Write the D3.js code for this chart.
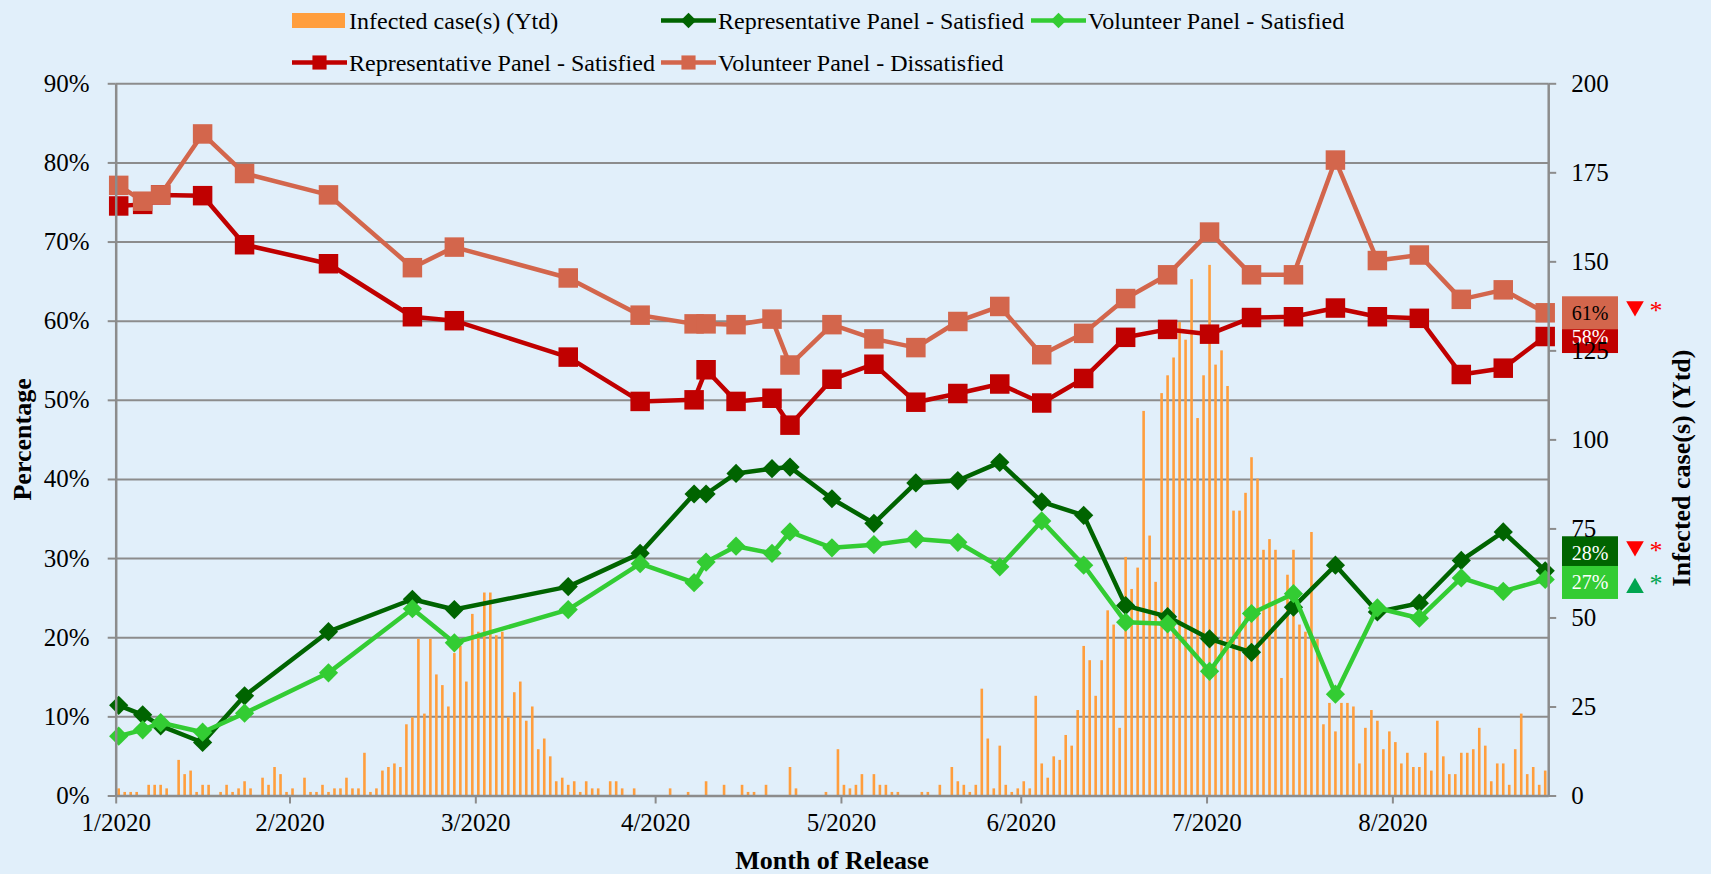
<!DOCTYPE html>
<html>
<head>
<meta charset="utf-8">
<script src="https://cdnjs.cloudflare.com/ajax/libs/d3/7.8.5/d3.min.js"></script>
<style>
  html, body { margin: 0; padding: 0; background: #E1EFFA; }
  svg { display: block; font-family: "Liberation Serif", "Times New Roman", serif; }
</style>
</head>
<body>
<div id="chart"></div>
<script>
//Data: daily infected cases, one value per day from firstCaseDay
var firstCaseDay = "2020-01-31";
var dailyCases = [
  2,1,1,1,0,3,3,3,2,0,
  10,6,7,1,3,3,0,1,3,1,
  2,4,2,0,5,3,8,6,1,2,
  0,5,1,1,3,1,2,2,5,2,
  2,12,1,2,7,8,9,8,20,22,
  44,23,44,34,31,25,40,42,32,51,
  46,57,57,45,46,22,29,32,21,25,
  13,16,11,4,5,3,4,1,4,2,
  2,0,4,4,2,0,2,0,0,0,
  0,0,2,0,0,1,0,0,4,0,
  0,3,0,0,3,1,1,0,3,0,
  0,0,8,2,0,0,0,0,1,0,
  13,3,2,3,6,0,6,3,3,1,
  1,0,0,0,1,1,0,3,0,8,
  4,3,1,3,30,16,2,14,3,1,
  2,4,2,28,9,5,11,10,17,14,
  24,42,38,28,38,52,48,19,67,58,
  64,108,73,60,113,118,123,133,128,145,
  106,118,149,121,125,115,80,80,85,95,
  89,69,72,69,33,62,69,48,46,74,
  44,20,26,18,26,26,25,9,19,24,
  21,13,18,15,9,12,8,8,12,7,
  21,11,6,6,12,12,13,19,14,4,
  9,9,3,13,23,6,8,3,7
];

//Data: survey releases (percent)
var surveyDates = ["2020-01-31","2020-02-04","2020-02-07","2020-02-14","2020-02-21","2020-03-06",
  "2020-03-20","2020-03-27","2020-04-15","2020-04-27","2020-05-06","2020-05-08","2020-05-13",
  "2020-05-19","2020-05-22","2020-05-29","2020-06-05","2020-06-12","2020-06-19","2020-06-26",
  "2020-07-03","2020-07-10","2020-07-17","2020-07-24","2020-07-31","2020-08-07","2020-08-14",
  "2020-08-21","2020-08-28","2020-09-04","2020-09-11","2020-09-18","2020-09-25"];
var repSatisfied = [11.4,10.2,8.8,6.7,12.6,20.7,24.8,23.5,26.4,30.6,38.1,38.1,40.7,41.3,41.5,37.5,
  34.4,39.5,39.8,42.1,37.1,35.4,24.0,22.6,19.8,18.1,23.8,29.1,23.2,24.3,29.7,33.3,28.4];
var volSatisfied = [7.5,8.3,9.2,8.0,10.4,15.5,23.6,19.3,23.5,29.3,26.9,29.5,31.5,30.6,33.3,31.3,
  31.7,32.4,32.0,28.9,34.7,29.1,21.9,21.7,15.7,23.0,25.5,12.8,23.7,22.4,27.5,25.8,27.3];
var repDissatisfied = [74.5,74.7,75.9,75.8,69.6,67.2,60.5,60.0,55.4,49.8,50.0,53.8,49.8,50.2,46.8,52.6,
  54.5,49.7,50.8,52.0,49.6,52.7,57.9,58.9,58.3,60.4,60.5,61.6,60.5,60.3,53.2,54.0,58.0];
var volDissatisfied = [77.1,75.1,75.9,83.6,78.6,75.9,66.7,69.3,65.4,60.7,59.6,59.6,59.5,60.2,54.4,59.5,
  57.7,56.6,59.9,61.8,55.7,58.4,62.8,65.8,71.2,65.8,65.8,80.3,67.6,68.3,62.7,63.9,61.0];

//Ticks
var monthTicks = ["2020-01-31","2020-02-29","2020-03-31","2020-04-30","2020-05-31","2020-06-30","2020-07-31","2020-08-31"];
var pctTicks = [0,10,20,30,40,50,60,70,80,90];
var caseTicks = [0,25,50,75,100,125,150,175,200];

//Series styles (legend order)
var series = [
  {key: "repSat", name: "Representative Panel - Satisfied", values: repSatisfied, color: "#006400", marker: "diamond", arrow: "down", arrowColor: "#FF0000", shift: -18, textColor: "#fff"},
  {key: "volSat", name: "Volunteer Panel - Satisfied", values: volSatisfied, color: "#33CC33", marker: "diamond", arrow: "up", arrowColor: "#00A550", shift: 3, textColor: "#fff"},
  {key: "repDis", name: "Representative Panel - Satisfied", values: repDissatisfied, color: "#C00000", marker: "square", arrow: null, shift: 0, textColor: "#fff"},
  {key: "volDis", name: "Volunteer Panel - Dissatisfied", values: volDissatisfied, color: "#D3664C", marker: "square", arrow: "down", arrowColor: "#FF0000", shift: 0, textColor: "#000"}
];
var barColor = "#FF9E3D";
var gridColor = "#8C8C8C";

//Dimensions
var width = 1711, height = 874;
var plot = {left: 115.7, right: 1548.2, top: 83.3, bottom: 795.5};

var parseDay = d3.timeParse("%Y-%m-%d");
var start = parseDay(firstCaseDay);
var midDay = function(d){ return d3.timeHour.offset(d, 12); };

var svg = d3.select("#chart").append("svg")
  .attr("width", width).attr("height", height);
svg.append("rect").attr("width", width).attr("height", height).attr("fill", "#E1EFFA");

//Scales
var x = d3.scaleTime()
  .domain([start, d3.timeDay.offset(start, dailyCases.length)])
  .range([plot.left, plot.right]);
var yPct = d3.scaleLinear().domain([0, 90]).range([plot.bottom, plot.top]);
var yCases = d3.scaleLinear().domain([0, 200]).range([plot.bottom, plot.top]);

//Gridlines
svg.append("g")
  .attr("transform", "translate(" + plot.left + ",0)")
  .call(d3.axisLeft(yPct).tickValues(pctTicks).tickSize(-(plot.right - plot.left)).tickFormat(""))
  .call(function(g){
    g.select(".domain").remove();
    g.selectAll("line").attr("stroke", gridColor).attr("stroke-width", 2);
  });

//Bars
var bars = dailyCases.map(function(v, i){ return {date: d3.timeDay.offset(start, i), v: v}; });
svg.append("g").selectAll("rect")
  .data(bars.filter(function(d){ return d.v > 0; }))
  .enter().append("rect")
  .attr("x", function(d){ return x(midDay(d.date)) - 1.3; })
  .attr("width", 2.6)
  .attr("y", function(d){ return yCases(d.v); })
  .attr("height", function(d){ return plot.bottom - yCases(d.v); })
  .attr("fill", barColor);

//Lines + markers
var squareSym = d3.symbol().type(d3.symbolSquare);
function markerPath(type, big){
  if (type === "square") return squareSym.size(big ? 380 : 200)();
  return squareSym.size(big ? 185 : 120)();
}
var line = d3.line()
  .x(function(d){ return x(midDay(d.date)); })
  .y(function(d){ return yPct(d.v); });

series.forEach(function(s){
  var pts = s.values.map(function(v, i){ return {date: parseDay(surveyDates[i]), v: v}; });
  var g = svg.append("g");
  g.append("path").datum(pts)
    .attr("d", line)
    .attr("fill", "none")
    .attr("stroke", s.color)
    .attr("stroke-width", 4.5)
    .attr("stroke-linejoin", "round");
  g.selectAll(".mk").data(pts).enter().append("path")
    .attr("d", markerPath(s.marker, true))
    .attr("fill", s.color)
    .attr("transform", function(d){
      return "translate(" + x(midDay(d.date)) + "," + yPct(d.v) + ")" + (s.marker === "diamond" ? " rotate(45)" : "");
    });
});

//End labels
var labelX = 1562, labelW = 56, labelH = 33;
var endOrder = [series[2], series[3], series[0], series[1]];
endOrder.forEach(function(s){
  var last = s.values[s.values.length - 1];
  var cy = yPct(last) + s.shift;
  var g = svg.append("g");
  g.append("rect")
    .attr("x", labelX).attr("y", cy - labelH / 2)
    .attr("width", labelW).attr("height", labelH)
    .attr("fill", s.color);
  g.append("text")
    .attr("x", labelX + labelW / 2).attr("y", cy + 7)
    .attr("text-anchor", "middle")
    .attr("font-size", "20px")
    .attr("fill", s.textColor)
    .text(Math.round(last) + "%");
  if (s.arrow){
    var tri = d3.symbol().type(d3.symbolTriangle).size(135)();
    var ty = s.arrow === "down" ? cy - 6.5 : cy + 5.5;
    g.append("path")
      .attr("d", tri)
      .attr("fill", s.arrowColor)
      .attr("transform", "translate(1635," + ty + ")" + (s.arrow === "down" ? " rotate(180)" : ""));
    g.append("text")
      .attr("x", 1656).attr("y", cy + (s.arrow === "down" ? 6 : 9.5))
      .attr("text-anchor", "middle")
      .attr("font-size", "26px")
      .attr("fill", s.arrowColor)
      .text("*");
  }
});

//Axes
function styleAxis(g){
  g.select(".domain").attr("stroke", gridColor).attr("stroke-width", 2.5);
  g.selectAll(".tick line").attr("stroke", gridColor).attr("stroke-width", 2);
  g.selectAll(".tick text").attr("fill", "#000").attr("font-size", "25px")
    .attr("font-family", "Liberation Serif, Times New Roman, serif");
}
svg.append("g")
  .attr("transform", "translate(0," + plot.bottom + ")")
  .call(d3.axisBottom(x).tickValues(monthTicks.map(parseDay)).tickFormat(d3.timeFormat("%-m/%Y"))
    .tickSize(8).tickSizeOuter(0).tickPadding(10))
  .call(styleAxis);
svg.append("g")
  .attr("transform", "translate(" + plot.left + ",0)")
  .call(d3.axisLeft(yPct).tickValues(pctTicks).tickFormat(function(d){ return d + "%"; })
    .tickSize(8).tickSizeOuter(0).tickPadding(18))
  .call(styleAxis);
svg.append("g")
  .attr("transform", "translate(" + plot.right + ",0)")
  .call(d3.axisRight(yCases).tickValues(caseTicks).tickSize(8).tickSizeOuter(0).tickPadding(15))
  .call(styleAxis);

//Axis titles
svg.append("text")
  .attr("transform", "translate(31," + ((plot.top + plot.bottom) / 2) + ") rotate(-90)")
  .attr("text-anchor", "middle").attr("font-size", "26px").attr("font-weight", "bold")
  .text("Percentage");
svg.append("text")
  .attr("transform", "translate(1689.5,468) rotate(-90)")
  .attr("text-anchor", "middle").attr("font-size", "26px").attr("font-weight", "bold")
  .text("Infected case(s) (Ytd)");
svg.append("text")
  .attr("x", (plot.left + plot.right) / 2).attr("y", 869)
  .attr("text-anchor", "middle").attr("font-size", "26px").attr("font-weight", "bold")
  .text("Month of Release");

//Legend
var legendItems = [
  {name: "Infected case(s) (Ytd)", type: "bar", color: barColor, x: 292, row: 0},
  {name: series[0].name, type: "line", s: series[0], x: 661, row: 0},
  {name: series[1].name, type: "line", s: series[1], x: 1031, row: 0},
  {name: series[2].name, type: "line", s: series[2], x: 292, row: 1},
  {name: series[3].name, type: "line", s: series[3], x: 661, row: 1}
];
var legend = svg.append("g");
legendItems.forEach(function(it){
  var cy = it.row === 0 ? 20.5 : 62.5;
  var g = legend.append("g");
  if (it.type === "bar"){
    g.append("rect").attr("x", it.x).attr("y", cy - 7.5).attr("width", 53).attr("height", 15).attr("fill", it.color);
  } else {
    g.append("line").attr("x1", it.x).attr("x2", it.x + 55).attr("y1", cy).attr("y2", cy)
      .attr("stroke", it.s.color).attr("stroke-width", 4.5);
    g.append("path").attr("d", markerPath(it.s.marker, false)).attr("fill", it.s.color)
      .attr("transform", "translate(" + (it.x + 27.5) + "," + cy + ")" + (it.s.marker === "diamond" ? " rotate(45)" : ""));
  }
  g.append("text").attr("x", it.x + 57).attr("y", cy + 8)
    .attr("font-size", "24px").attr("fill", "#000")
    .text(it.name);
});
</script>
</body>
</html>
